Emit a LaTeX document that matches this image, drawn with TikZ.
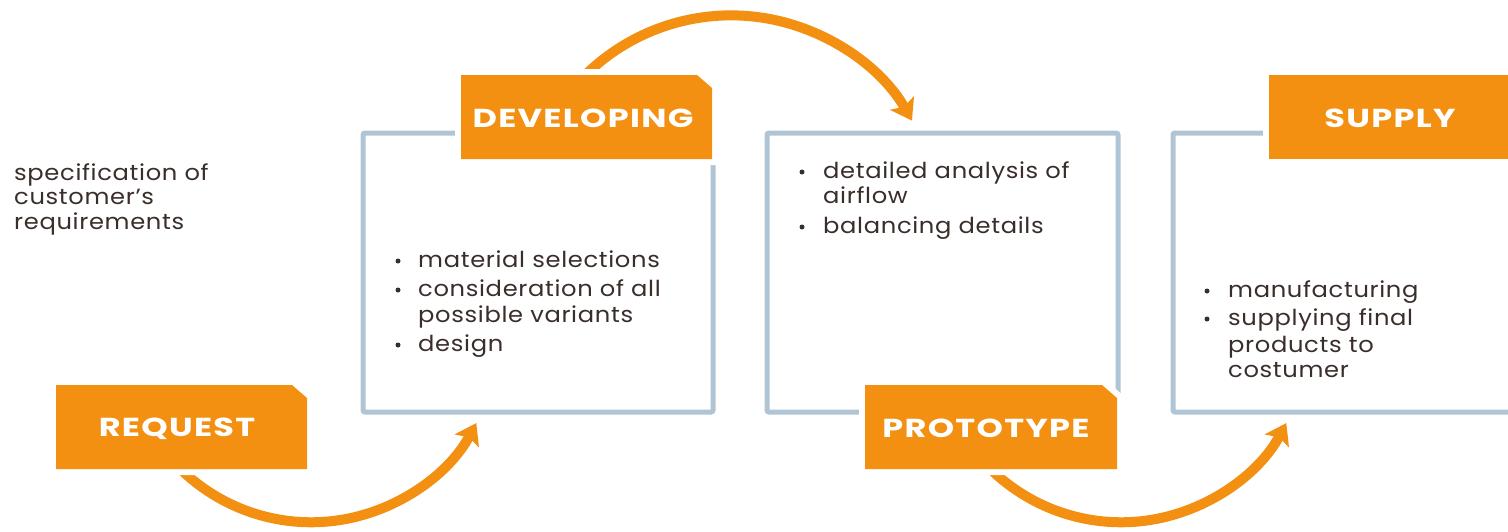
\documentclass[tikz,border=0pt]{standalone}
\usepackage{fontspec}
\setmainfont{Poppins}
\usetikzlibrary{arrows.meta}
\definecolor{orng}{HTML}{F39012}
\definecolor{frm}{HTML}{AFC5D5}
\definecolor{txt}{HTML}{3A2E2B}
\newcommand{\ttlfont}{\fontsize{26}{30}\selectfont\bfseries\addfontfeatures{FakeStretch=1.29,LetterSpace=5}}
\newcommand{\bodyfont}{\fontsize{22}{26}\selectfont\addfontfeatures{FakeStretch=1.1,LetterSpace=3}}
\tikzset{
  framebox/.style={draw=frm, line width=5pt, rounded corners=2pt},
  halo/.style={fill=white, draw=white, line width=12pt, line join=miter},
  tab/.style={fill=orng},
  title/.style={text=white, font=\ttlfont, inner sep=0pt},
  body/.style={text=txt, font=\bodyfont, inner sep=0pt, anchor=base west},
  bul/.style={circle, fill=txt, inner sep=0pt, minimum size=5pt},
  arr/.style={draw=orng, line width=10pt, -{Stealth[length=20pt,width=27pt,inset=4pt]}},
}
\begin{document}
\begin{tikzpicture}[x=1pt,y=-1pt]
\useasboundingbox (0,0) rectangle (1508,531);
% frames
\draw[framebox] (363,133) rectangle (713,412);
\draw[framebox] (767,133) rectangle (1118,412);
\draw[framebox] (1530,133) -- (1173,133) -- (1173,412) -- (1530,412);
% connectors (arcs)
\coordinate (a1s) at (174.4,462.8);
\coordinate (a2s) at (579,81.5);
\coordinate (a3s) at (984.4,462.8);
\draw[arr] (a1s) arc[start angle=-137, end angle=-28, radius=187pt];
\draw[arr] (a2s) arc[start angle=137, end angle=29.6, radius=208pt];
\draw[arr] (a3s) arc[start angle=-137, end angle=-28, radius=187pt];
% orange tabs
\foreach \xa/\ya/\xb/\yb in {56/385/307/469, 461/75/712/159, 865/385/1117/469}{
  \path[halo] (\xa,\ya) -- (\xb-15,\ya) -- (\xb,\ya+13) -- (\xb,\yb) -- (\xa,\yb) -- cycle;
  \path[tab] (\xa,\ya) -- (\xb-15,\ya) -- (\xb,\ya+13) -- (\xb,\yb) -- (\xa,\yb) -- cycle;
}
\path[halo] (1269,75) rectangle (1530,159);
\path[tab] (1269,75) rectangle (1530,159);
\node[title] (req) at (177,428.5) {REQUEST};
\node[title] (dev) at (583,118) {DEVELOPING};
\node[title] (proto) at (986,428.5) {PROTOTYPE};
\node[title] (sup) at (1390,118) {SUPPLY};
% texts
\node[body] (s1) at (14,180) {specification of};
\node[body] (s2) at (14,204) {customer’s};
\node[body] (s3) at (14,229) {requirements};
\node[bul] (b1) at (398,261) {};
\node[body] (d1) at (418,267) {material selections};
\node[bul] (b2) at (398,290) {};
\node[body] (d2) at (418,296) {consideration of all};
\node[body] (d3) at (418,322) {possible variants};
\node[bul] (b3) at (398,345) {};
\node[body] (d4) at (418,351) {design};
\node[bul] (b4) at (802,172) {};
\node[body] (p1) at (823,178) {detailed analysis of};
\node[body] (p2) at (823,203) {airflow};
\node[bul] (b5) at (802,227) {};
\node[body] (p3) at (823,233) {balancing details};
\node[bul] (b6) at (1207,291) {};
\node[body] (m1) at (1228,297) {manufacturing};
\node[bul] (b7) at (1207,319) {};
\node[body] (m2) at (1228,325) {supplying final};
\node[body] (m3) at (1228,352) {products to};
\node[body] (m4) at (1228,377) {costumer};
\end{tikzpicture}
\end{document}
